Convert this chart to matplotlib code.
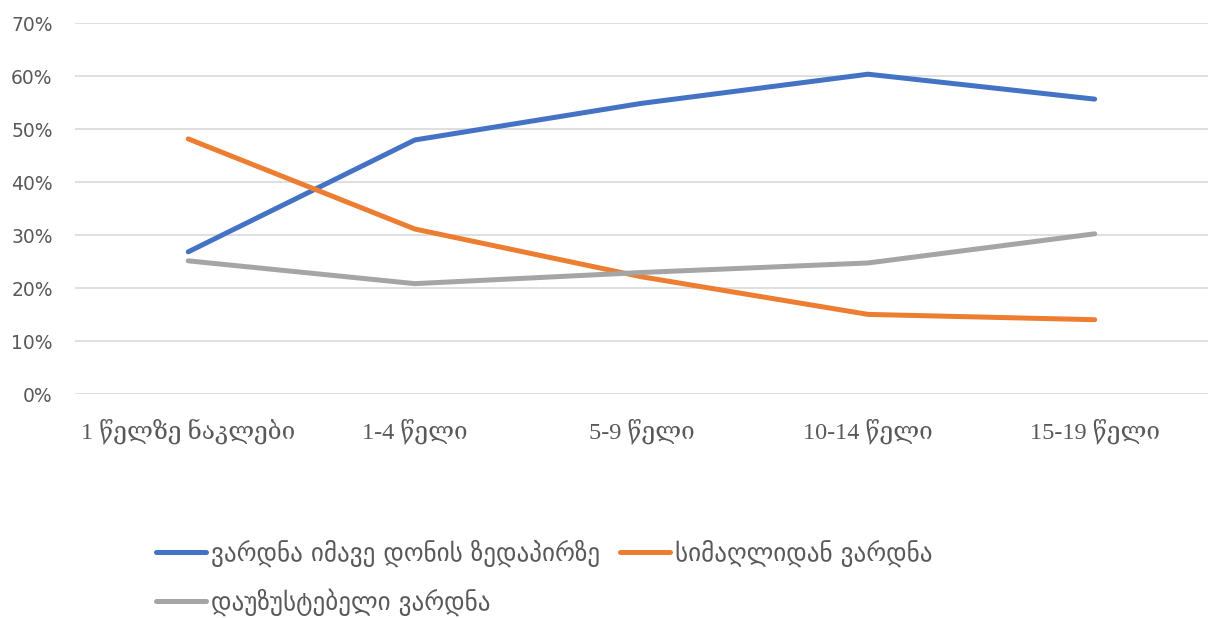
import matplotlib.pyplot as plt
from matplotlib.ticker import PercentFormatter

plt.rcParams['font.family'] = ['DejaVu Sans']

categories = ['1 წელზე ნაკლები', '1-4 წელი', '5-9 წელი', '10-14 წელი', '15-19 წელი']
same_level = [26.9, 48.0, 54.9, 60.4, 55.7]
from_height = [48.2, 31.2, 22.2, 15.1, 14.1]
unspecified = [25.2, 20.9, 23.0, 24.8, 30.3]

series_names = ['ვარდნა იმავე დონის ზედაპირზე', 'სიმაღლიდან ვარდნა', 'დაუზუსტებელი ვარდნა']
colors = ['#4472C4', '#ED7D31', '#A5A5A5']
text_color = '#595959'

fig = plt.figure(figsize=(12.11, 6.18), dpi=100)
ax = fig.add_axes([0.0619, 0.3617, 0.9356, 0.6006])

x = range(len(categories))
lines = []
for vals, name, c in zip([same_level, from_height, unspecified], series_names, colors):
    ln, = ax.plot(x, vals, color=c, lw=3.6, solid_capstyle='round', label=name)
    lines.append(ln)

ax.set_xlim(-0.5, len(categories) - 0.5)
ax.set_ylim(0, 70)
ax.set_yticks(range(0, 71, 10))
ax.yaxis.set_major_formatter(PercentFormatter(decimals=0))
ax.grid(axis='y', color='#D9D9D9', lw=1.2)
ax.set_axisbelow(True)
for s in ax.spines.values():
    s.set_visible(False)
ax.tick_params(length=0)
ax.tick_params(axis='y', labelsize=13.5, labelcolor=text_color, pad=16)
ax.set_xticks(list(x))
ax.set_xticklabels(categories, fontsize=17.5, color=text_color,
                   family=['Liberation Serif', 'DejaVu Serif'])
ax.tick_params(axis='x', pad=17)

# legend fills column-wise: blue, gray in col 1, orange in col 2
handles = [lines[0], lines[2], lines[1]]
leg = fig.legend(handles=handles, loc='upper left', bbox_to_anchor=(0.110, 0.163),
                 ncol=2, frameon=False, fontsize=18, handlelength=2.0,
                 handletextpad=0.2, columnspacing=0.8, labelspacing=0.85)
for t in leg.get_texts():
    t.set_color(text_color)

fig.savefig('out.png', dpi=100)
